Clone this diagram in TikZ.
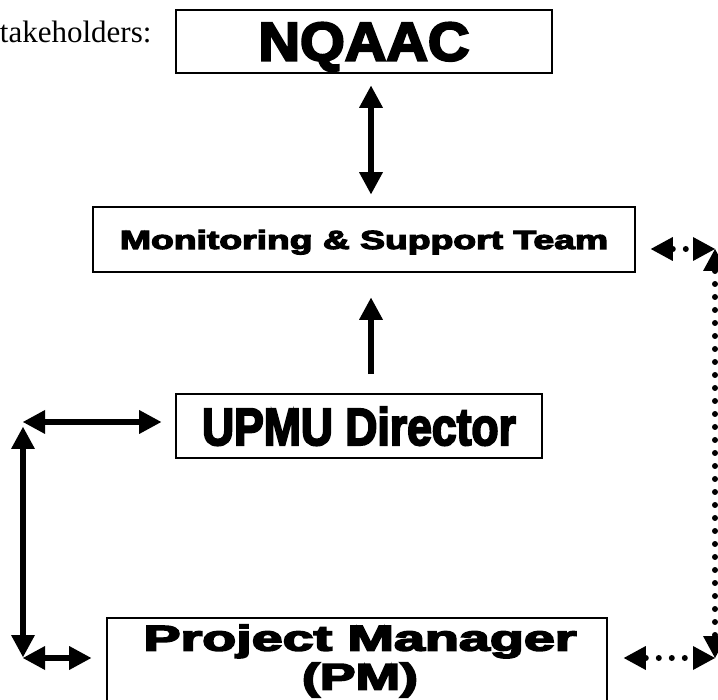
\documentclass[tikz,border=0pt]{standalone}
\usepackage{fontspec}
\setmainfont{Liberation Serif}
\newfontfamily\heavyfont[FakeBold=4]{Liberation Sans}
\usepackage{graphicx}
\usetikzlibrary{positioning,arrows.meta,calc}
\tikzset{
  orgbox/.style={draw, line width=1.6pt, inner sep=0pt, fill=white, text depth=0pt},
  bigarrow/.style={{Triangle[length=22pt,width=24pt,line width=0pt]}-{Triangle[length=22pt,width=24pt,line width=0pt]}, line width=6pt},
  uparrow/.style={-{Triangle[length=22pt,width=24pt,line width=0pt]}, line width=6pt},
  dotarrow/.style={bigarrow, dash pattern=on 0pt off 13pt, line cap=round},
}
\newcommand{\boxtext}[3]{\resizebox{#1}{#2}{\heavyfont\bfseries #3}}

\begin{document}
\begin{tikzpicture}[x=1pt, y=-1pt]
  \useasboundingbox (0,0) rectangle (718,700);
  \node[anchor=base east, font=\fontsize{31}{36}\selectfont] (lead) at (155,43) {takeholders:};
  % boxes
  \node[orgbox, minimum width=376pt, minimum height=63pt] (nqaac) at (364,41.5) {\boxtext{211pt}{38pt}{NQAAC}};
  \node[orgbox, minimum width=542pt, minimum height=65pt] (mst) at (364,239.5) {\boxtext{488pt}{19pt}{Monitoring \& Support Team}};
  \node[orgbox, minimum width=366pt, minimum height=64pt] (upmu) at (359,426) {\boxtext{314pt}{38pt}{UPMU Director}};
  \node[orgbox, minimum width=500pt, minimum height=86pt] (pm) at (357,661) {};
  \node[align=center, inner sep=0pt, font=\fontsize{10}{39}\selectfont] (pmtext) at (360,661)
    {\boxtext{433pt}{26pt}{Project Manager}\\\boxtext{116pt}{27pt}{(PM)}};
  % corners
  \coordinate (ltop) at (23,422);
  \coordinate (lbot) at (23,658);
  \coordinate (rtop) at (715,249);
  \coordinate (rbot) at (715,658);
  % arrows
  \draw[bigarrow, shorten <=12pt, shorten >=12pt] ([xshift=7pt]nqaac.south) -- ([xshift=7pt]nqaac.south |- mst.north);
  \draw[uparrow, shorten <=19pt, shorten >=25pt] ([xshift=12pt]upmu.north) -- ([xshift=12pt]upmu.north |- mst.south);
  \draw[bigarrow, shorten >=14pt] (ltop) -- (ltop -| upmu.west);
  \draw[bigarrow, shorten <=5pt, shorten >=1pt] (ltop) -- (lbot);
  \draw[bigarrow, shorten >=15pt] (lbot) -- (lbot -| pm.west);
  \draw[dotarrow, shorten <=15pt] (mst.east |- rtop) -- (rtop);
  \draw[dotarrow] (rtop) -- (rbot);
  \draw[dotarrow, shorten <=16pt] (pm.east |- rbot) -- (rbot);
\end{tikzpicture}
\end{document}
